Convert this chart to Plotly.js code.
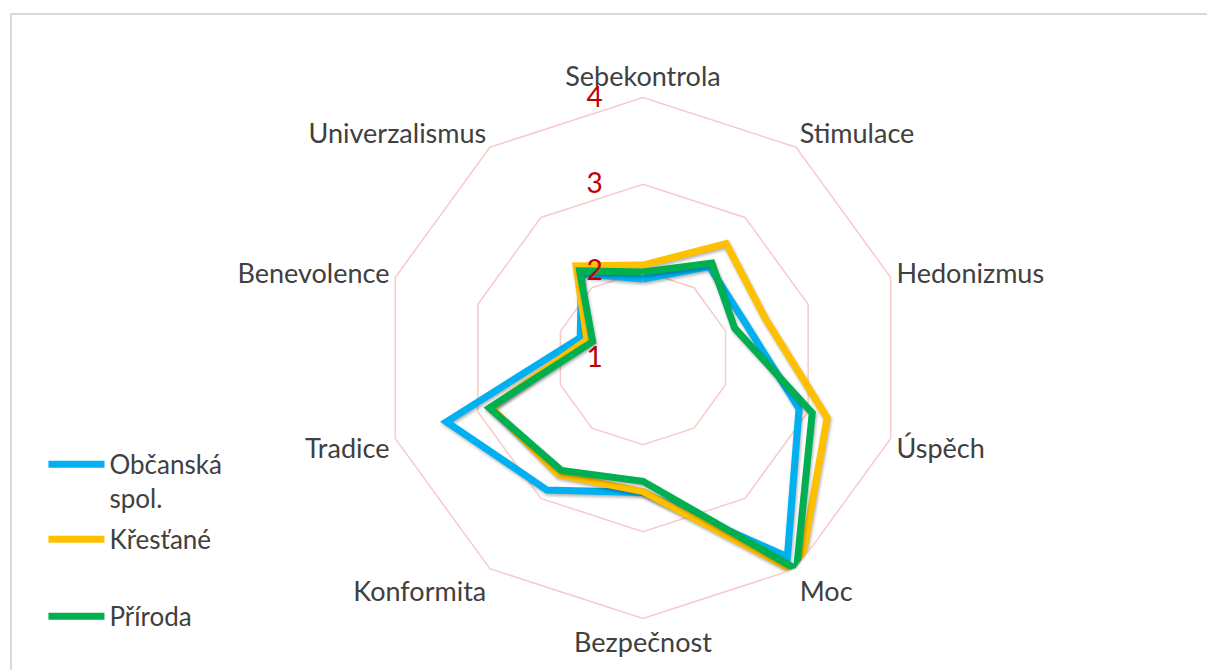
<!DOCTYPE html>
<html>
<head>
<meta charset="utf-8">
<script src="https://cdn.plot.ly/plotly-3.0.1.min.js"></script>
<style>
  html, body { margin: 0; padding: 0; background: #ffffff; }
  #frame { position: absolute; left: 10px; top: 13px; width: 1197px; height: 657px;
           border-left: 2px solid #d9d9d9; border-top: 2px solid #d9d9d9; }
  #chart { position: absolute; left: 0; top: 0; width: 1207px; height: 670px; }
  #chart .polarlayer .scatterlayer path.js-line {
    filter: drop-shadow(1.5px 2.5px 1.5px rgba(0,0,0,0.30));
  }
</style>
</head>
<body>
<div id="frame"></div>
<div id="chart"></div>
<script>
const categories = ["Sebekontrola", "Stimulace", "Hedonizmus", "Úspěch", "Moc",
                    "Bezpečnost", "Konformita", "Tradice", "Benevolence", "Univerzalismus"];
const seriesNames = ["Občanská<br>spol.", "Křesťané", "Příroda"];
const obcanskaSpol = [1.91, 2.30, 2.25, 2.89, 3.83, 2.55, 2.88, 3.38, 1.76, 2.20];
const krestane     = [2.07, 2.63, 2.48, 3.23, 4.07, 2.54, 2.66, 2.84, 1.68, 2.31];
const priroda      = [1.99, 2.35, 2.11, 3.05, 4.01, 2.42, 2.60, 2.86, 1.61, 2.24];
const radialTicks = [1, 2, 3, 4];

const colors = ["#00B0F0", "#FFC000", "#00B050"];
const values = [obcanskaSpol, krestane, priroda];
const legends = ["legend", "legend2", "legend3"];
const FONT = "Lato, 'Open Sans', sans-serif";

const traces = values.map((v, i) => ({
  type: "scatterpolar",
  r: v.concat([v[0]]),
  theta: categories.concat([categories[0]]),
  mode: "lines",
  name: seriesNames[i],
  line: { color: colors[i], width: 7, shape: "linear" },
  cliponaxis: false,
  legend: legends[i],
  hoverinfo: "skip"
}));

const legendBase = {
  bgcolor: "rgba(0,0,0,0)",
  borderwidth: 0,
  font: { family: FONT, size: 26, color: "#404040" },
  valign: "top",
  xanchor: "left",
  yanchor: "top",
  itemwidth: 56,
  x: 0.036
};

const layout = {
  width: 1207,
  height: 670,
  margin: { l: 0, r: 0, t: 0, b: 0 },
  paper_bgcolor: "rgba(0,0,0,0)",
  showlegend: true,
  font: { family: FONT, size: 26, color: "#404040" },
  polar: {
    domain: { x: [0.3169, 0.7485], y: [0.0769, 0.8545] },
    bgcolor: "rgba(0,0,0,0)",
    gridshape: "linear",
    radialaxis: {
      range: [1, 4],
      angle: 90,
      side: "counterclockwise",
      tickvals: radialTicks,
      ticktext: radialTicks.map(String),
      ticks: "outside",
      ticklen: 30,
      tickcolor: "rgba(0,0,0,0)",
      tickangle: 90,
      tickfont: { family: FONT, size: 28, color: "#C00000" },
      showline: false,
      gridcolor: "#F9CACA",
      gridwidth: 1.5
    },
    angularaxis: {
      type: "category",
      categoryorder: "array",
      categoryarray: categories,
      direction: "clockwise",
      rotation: 90,
      showgrid: false,
      showline: true,
      linecolor: "#F9CACA",
      linewidth: 1.5,
      ticks: "",
      tickfont: { family: FONT, size: 27, color: "#404040" }
    }
  },
  legend: Object.assign({}, legendBase, { y: 0.342 }),
  legend2: Object.assign({}, legendBase, { y: 0.230 }),
  legend3: Object.assign({}, legendBase, { y: 0.115 })
};

Plotly.newPlot("chart", traces, layout, { displayModeBar: false, staticPlot: true });
</script>
</body>
</html>
